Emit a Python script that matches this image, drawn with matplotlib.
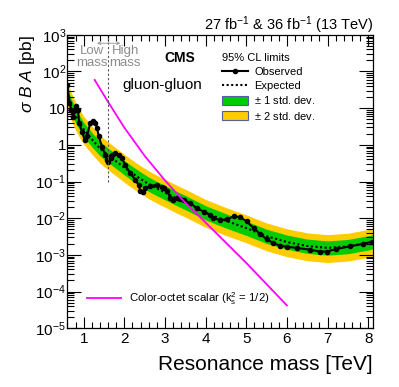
import matplotlib
matplotlib.use("Agg")
import matplotlib.pyplot as plt
import numpy as np
from matplotlib.lines import Line2D
from matplotlib.patches import Patch
from matplotlib.ticker import FixedLocator, MultipleLocator, LogLocator, NullFormatter

plt.rcParams['font.family'] = ['Liberation Sans', 'DejaVu Sans']
plt.rcParams['mathtext.fontset'] = 'custom'
plt.rcParams['mathtext.rm'] = 'Liberation Sans'
plt.rcParams['mathtext.it'] = 'Liberation Sans:italic'
plt.rcParams['mathtext.bf'] = 'Liberation Sans:bold'

# observed limit (mass in TeV, log10 of limit in pb)
obs_mass = [0.60, 0.65, 0.70, 0.74, 0.78, 0.82, 0.86, 0.89, 0.96, 1.02, 1.08, 1.16, 1.22, 1.29,
            1.33, 1.37, 1.45, 1.53, 1.57, 1.61, 1.66, 1.70, 1.78, 1.86, 1.94, 2.02, 2.15, 2.27,
            2.35, 2.39, 2.46, 2.52, 2.64, 2.80, 2.93, 2.97, 3.06, 3.13, 3.20, 3.29, 3.38, 3.46,
            3.62, 3.79, 3.95, 4.11, 4.19, 4.36, 4.52, 4.69, 4.85, 5.01, 5.18, 5.34, 5.51, 5.67,
            5.83, 6.00, 6.24, 6.57, 6.81, 6.98, 7.22, 7.55, 7.87, 8.10]
obs_log = [1.62, 1.15, 0.95, 0.76, 0.95, 1.05, 0.95, 0.59, 0.36, 0.14, 0.23, 0.59, 0.66, 0.59,
           0.46, 0.23, -0.05, -0.27, -0.41, -0.46, -0.36, -0.27, -0.23, -0.27, -0.36, -0.55, -0.78, -0.95,
           -1.09, -1.25, -1.28, -1.18, -1.12, -1.09, -1.15, -1.18, -1.26, -1.45, -1.50, -1.45, -1.47, -1.50,
           -1.59, -1.73, -1.82, -1.91, -2.00, -2.05, -2.03, -1.95, -1.97, -2.09, -2.27, -2.43, -2.58, -2.68,
           -2.75, -2.78, -2.81, -2.86, -2.91, -2.91, -2.84, -2.77, -2.70, -2.64]

# expected limit and bands (log10 pb)
exp_mass = [0.6, 0.7, 0.8, 0.9, 1.0, 1.2, 1.4, 1.6, 1.8, 2.0, 2.2, 2.4, 2.6, 2.8, 3.0, 3.25, 3.5,
            3.75, 4.0, 4.5, 5.0, 5.5, 6.0, 6.5, 7.0, 7.5, 8.0, 8.1]
exp_log = [1.35, 1.05, 0.80, 0.60, 0.42, 0.15, -0.10, -0.28, -0.45, -0.62, -0.78, -0.93, -1.07, -1.19,
           -1.30, -1.44, -1.57, -1.71, -1.85, -2.07, -2.27, -2.49, -2.65, -2.76, -2.81, -2.77, -2.67, -2.64]
up2_log = [1.71, 1.41, 1.16, 0.96, 0.78, 0.51, 0.26, 0.08, -0.09, -0.26, -0.42, -0.57, -0.71, -0.83,
           -0.94, -1.08, -1.21, -1.35, -1.49, -1.71, -1.91, -2.13, -2.29, -2.40, -2.45, -2.41, -2.31, -2.28]
up1_log = [1.54, 1.24, 0.99, 0.79, 0.61, 0.34, 0.09, -0.09, -0.26, -0.43, -0.59, -0.74, -0.88, -1.00,
           -1.11, -1.25, -1.38, -1.52, -1.66, -1.88, -2.08, -2.30, -2.46, -2.57, -2.62, -2.58, -2.48, -2.45]
dn1_log = [1.15, 0.85, 0.60, 0.40, 0.22, -0.05, -0.30, -0.48, -0.65, -0.82, -0.98, -1.13, -1.27, -1.39,
           -1.50, -1.64, -1.77, -1.91, -2.05, -2.27, -2.47, -2.69, -2.85, -2.96, -3.01, -2.97, -2.87, -2.84]
dn2_log = [0.95, 0.65, 0.40, 0.20, 0.02, -0.25, -0.50, -0.68, -0.85, -1.02, -1.18, -1.33, -1.47, -1.59,
           -1.70, -1.84, -1.97, -2.11, -2.25, -2.47, -2.67, -2.89, -3.05, -3.16, -3.21, -3.17, -3.07, -3.04]

# color-octet scalar cross section
sig_mass = [1.27, 1.6, 2.0, 2.5, 3.0, 3.5, 4.0, 4.5, 5.0, 5.5, 6.0]
sig_log = [1.77, 1.17, 0.47, -0.30, -0.97, -1.58, -2.12, -2.67, -3.22, -3.80, -4.38]

boundary = 1.6
ytick_vals = [1e-5, 1e-4, 1e-3, 1e-2, 1e-1, 1, 10, 1e2, 1e3]
ytick_labels = [r'$10^{-5}$', r'$10^{-4}$', r'$10^{-3}$', r'$10^{-2}$', r'$10^{-1}$', '1', '10',
                r'$10^{2}$', r'$10^{3}$']

def pb(v):
    return 10 ** np.array(v)

fig = plt.figure(figsize=(3.99, 3.87), dpi=100)
ax = fig.add_axes([0.169, 0.152, 0.766, 0.758])

yellow = '#ffcc00'
green = '#00cc00'
ax.fill_between(exp_mass, pb(dn2_log), pb(up2_log), color=yellow, lw=0)
ax.fill_between(exp_mass, pb(dn1_log), pb(up1_log), color=green, lw=0)
ax.plot(exp_mass, pb(exp_log), color='black', ls=(0, (1, 1.2)), lw=1.5)
ax.plot(obs_mass, pb(obs_log), color='black', lw=1.5, marker='o', ms=3)
ax.plot(sig_mass, pb(sig_log), color='#ff00ff', lw=1.3)

ax.set_yscale('log')
ax.set_xlim(0.6, 8.12)
ax.set_ylim(1e-5, 1e3)

# low / high mass boundary
ax.plot([boundary, boundary], [0.1, 1e3], color='#555555', ls=(0, (2, 2)), lw=0.8)
for x_end in (1.33, 1.9):
    ax.annotate('', xy=(x_end, 590), xytext=(boundary, 590),
                arrowprops=dict(arrowstyle='->', color='#909090', lw=0.6, shrinkA=0, shrinkB=0,
                                mutation_scale=5))
ax.text(1.2, 250, 'Low\nmass', ha='center', va='center', fontsize=9.5, color='#8c8c8c',
        linespacing=0.95)
ax.text(2.02, 250, 'High\nmass', ha='center', va='center', fontsize=9.5, color='#8c8c8c',
        linespacing=0.95)

ax.text(0.369, 0.922, 'CMS', transform=ax.transAxes, ha='center', va='center',
        fontsize=10, fontweight='bold')
ax.text(0.31, 0.83, 'gluon-gluon', transform=ax.transAxes, ha='center', va='center', fontsize=11)
ax.text(1.0, 1.015, r'27 fb$^{-1}$ & 36 fb$^{-1}$ (13 TeV)', transform=ax.transAxes,
        ha='right', va='baseline', fontsize=10.5)

# ticks
ax.yaxis.set_major_locator(FixedLocator(ytick_vals))
ax.set_yticklabels(ytick_labels)
ax.yaxis.set_minor_locator(LogLocator(base=10, subs=np.arange(2, 10), numticks=20))
ax.yaxis.set_minor_formatter(NullFormatter())
ax.xaxis.set_major_locator(MultipleLocator(1))
ax.xaxis.set_minor_locator(MultipleLocator(0.2))
ax.tick_params(which='both', direction='in', top=True, right=True, width=0.8)
ax.tick_params(which='major', axis='y', length=10, labelsize=11, pad=1)
ax.tick_params(which='minor', axis='y', length=5)
ax.tick_params(which='major', axis='x', length=8, labelsize=11, pad=3)
ax.tick_params(which='minor', axis='x', length=4)
for s in ax.spines.values():
    s.set_linewidth(0.9)

ax.set_xlabel('Resonance mass [TeV]', loc='right', fontsize=15)
ax.xaxis.set_label_coords(1.0, -0.092)
ax.text(-0.13, 1.0, r'$\sigma$ $B$ $A$ [pb]', transform=ax.transAxes, rotation=90,
        ha='center', va='top', fontsize=12.5)

handles = [Line2D([], [], color='black', lw=1.5, marker='o', ms=3),
           Line2D([], [], color='black', ls=(0, (1, 1.2)), lw=1.5),
           Patch(facecolor=green, edgecolor='#5060a0', lw=0.8),
           Patch(facecolor=yellow, edgecolor='#5060a0', lw=0.8)]
labels = ['Observed', 'Expected', r'$\pm$ 1 std. dev.', r'$\pm$ 2 std. dev.']
leg = ax.legend(handles, labels, title='95% CL limits', loc='upper left',
                bbox_to_anchor=(0.506, 0.937), frameon=False, fontsize=8, title_fontsize=8,
                borderpad=0, borderaxespad=0, handlelength=2.3, handleheight=0.9,
                handletextpad=0.6, labelspacing=0.3, alignment='left', numpoints=1)
ax.add_artist(leg)

sig_handle = [Line2D([], [], color='#ff00ff', lw=1.3)]
ax.legend(sig_handle, [r'Color-octet scalar (k$_{\mathrm{s}}^{2}$ = 1/2)'], loc='center left',
          bbox_to_anchor=(0.064, 0.102), frameon=False, fontsize=8.2, borderpad=0,
          borderaxespad=0, handlelength=3.0, handletextpad=0.7)

fig.savefig('out.png', dpi=100)
